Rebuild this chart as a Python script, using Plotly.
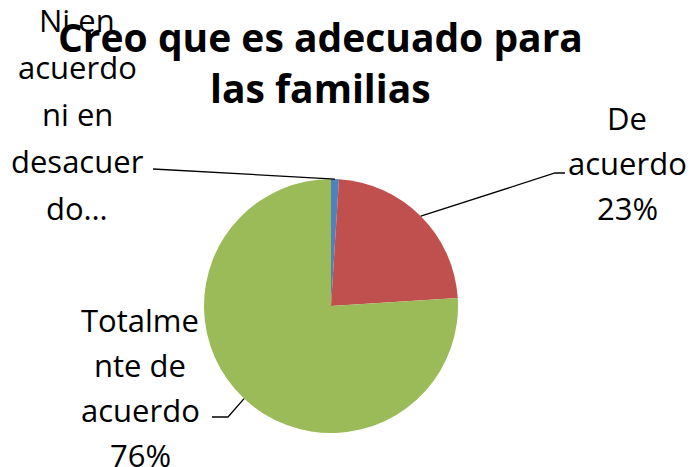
import math
import plotly.graph_objects as go

categories = ["Ni en acuerdo ni en desacuerdo", "De acuerdo", "Totalmente de acuerdo"]
values = [1, 23, 76]
colors = ["#4F81BD", "#C0504D", "#9BBB59"]
label_lines = [
    ["Ni en", "acuerdo", "ni en", "desacuer", "do…"],
    ["De", "acuerdo", "23%"],
    ["Totalme", "nte de", "acuerdo", "76%"],
]
title_lines = ["Creo que es adecuado para", "las familias"]

W, H = 692, 467
cx, cy, r = 331, 306, 127

def px(x):
    return x / W

def py(y):
    return 1 - y / H

fig = go.Figure(go.Pie(
    labels=categories, values=values, sort=False, direction="clockwise",
    rotation=0, marker=dict(colors=colors, line=dict(width=0)),
    textinfo="none", hoverinfo="label+percent", showlegend=False,
    domain=dict(x=[px(cx - r), px(cx + r)], y=[py(cy + r), py(cy - r)]),
))

# label anchors (pixel): x center, first line y center, line spacing
label_pos = [(77, 20, 47), (627, 118, 45), (140, 320, 45)]
# leader line: bend point and end point (pixel)
leader_pts = [[(153, 169)], [(555, 173), (565, 173)], [(228, 417), (212, 417)]]

total = sum(values)
cum = 0
shapes = []
for i, v in enumerate(values):
    mid = (cum + v / 2) / total * 2 * math.pi
    cum += v
    sx = cx + r * math.sin(mid)
    sy = cy - r * math.cos(mid)
    pts = [(sx, sy)] + leader_pts[i]
    path = "M " + " L ".join(f"{px(a):.5f},{py(b):.5f}" for a, b in pts)
    shapes.append(dict(type="path", xref="paper", yref="paper", path=path,
                       line=dict(color="black", width=1.3)))

annotations = []
for (x, y0, dy), lines in zip(label_pos, label_lines):
    for k, t in enumerate(lines):
        annotations.append(dict(x=px(x), y=py(y0 + k * dy), xref="paper", yref="paper",
                                text=t, showarrow=False, xanchor="center", yanchor="middle",
                                font=dict(family="Open Sans", size=31, color="black")))

for k, t in enumerate(title_lines):
    annotations.append(dict(x=px(320), y=py(36 + k * 52), xref="paper", yref="paper",
                            text=f"<b>{t}</b>", showarrow=False, xanchor="center", yanchor="middle",
                            font=dict(family="Open Sans", size=39, color="black")))

fig.update_layout(width=W, height=H, margin=dict(l=0, r=0, t=0, b=0),
                  paper_bgcolor="white", plot_bgcolor="white",
                  shapes=shapes, annotations=annotations)
fig.write_html("out.html", config={"displayModeBar": False},
               post_script="document.body.style.margin='0';document.body.style.overflow='hidden';")
